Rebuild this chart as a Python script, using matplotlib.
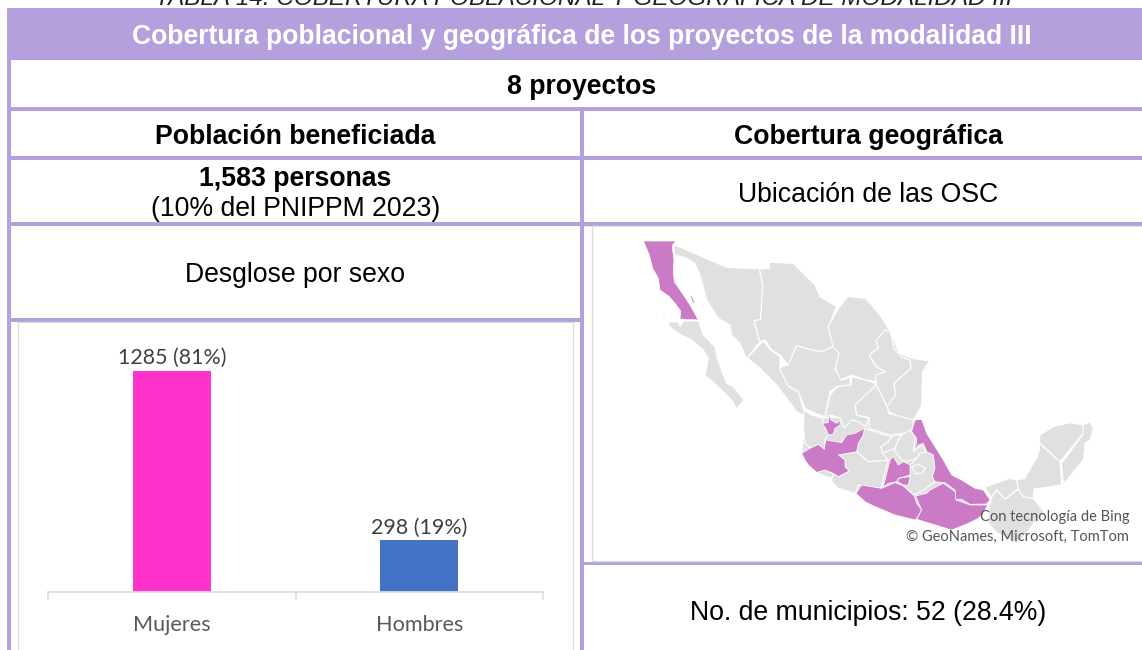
import matplotlib
matplotlib.use("Agg")
import matplotlib.pyplot as plt
from matplotlib.patches import Rectangle, Polygon

W, H = 1142, 650
PURPLE = "#B4A0DC"
MAP_GREY = "#E0E0E0"
MAP_PURPLE = "#CB7BC6"
CHART_EDGE = "#DCDCDC"
SANS = "Liberation Sans"

categories = ["Mujeres", "Hombres"]
values = [1285, 298]
shares = [81, 19]
bar_colors = ["#FF33CC", "#4472C4"]

title_clipped = "TABLA 14. COBERTURA POBLACIONAL Y GEOGRÁFICA DE MODALIDAD III"
title = "Cobertura poblacional y geográfica de los proyectos de la modalidad III"
projects = "8 proyectos"
left_head = "Población beneficiada"
right_head = "Cobertura geográfica"
people = "1,583 personas"
people_share = "(10% del PNIPPM 2023)"
location = "Ubicación de las OSC"
breakdown = "Desglose por sexo"
municipalities = "No. de municipios: 52 (28.4%)"
credit_1 = "Con tecnología de Bing"
credit_2 = "© GeoNames, Microsoft, TomTom"


# Simplified state outlines, traced in four views of the map image
def whole(pts):
    return [(585 + x / 2.815, 225 + y / 3) for x, y in pts]


def north(pts):
    return [(640 + x / 3, 235 + y / 3) for x, y in pts]


def south(pts):
    return [(795 + x / 3, 410 + y / 3) for x, y in pts]


def east(pts):
    return [(960 + x / 3, 410 + y / 3) for x, y in pts]


land_under = whole([(620,575),(925,590),(1040,760),(1120,835),(945,885),(765,805),(612,690)])

grey_states = [
    north([(80,262),(115,260),(120,275),(130,258),(175,258),(190,300),(210,320),(225,335),(232,370),(250,420),(260,445),(280,455),(312,495),(290,522),(275,495),(240,460),(195,420),(205,370),(190,345),(155,315),(125,300),(100,285)]),
    north([(100,28),(260,97),(358,102),(368,150),(362,253),(342,258),(360,320),(322,368),(322,378),(300,325),(275,300),(270,270),(235,250),(200,195),(180,120),(165,85),(140,70),(105,60)]),
    north([(358,102),(388,100),(388,82),(460,85),(525,150),(540,185),(590,215),(565,275),(580,335),(545,350),(515,345),(470,332),(445,390),(420,360),(395,345),(375,315),(360,320),(342,258),(362,253),(368,150)]),
    north([(322,368),(370,318),(392,345),(420,365),(420,405),(447,455),(475,470),(490,520),(497,545),(470,530),(410,450),(360,400)]),
    north([(425,395),(445,390),(470,332),(515,345),(545,350),(580,335),(598,355),(585,405),(610,435),(630,425),(630,450),(590,455),(570,470),(555,545),(525,535),(495,520),(475,470),(447,455),(420,405)]),
    whole([(712,252),(740,215),(790,220),(830,270),(860,320),(845,315),(820,345),(825,370),(800,390),(820,425),(845,440),(820,450),(818,470),(790,465),(750,450),(720,465),(705,430),(715,385),(698,365),(685,305)]),
    whole([(845,315),(860,320),(870,370),(890,395),(915,405),(918,430),(870,475),(875,510),(850,545),(820,480),(818,450),(845,440),(820,425),(800,390),(825,370),(820,345)]),
    whole([(860,320),(885,385),(920,400),(970,408),(950,440),(948,540),(925,585),(890,580),(855,560),(850,545),(875,510),(870,475),(918,430),(915,405),(890,395),(870,370)]),
    whole([(690,510),(710,485),(750,480),(750,455),(790,465),(818,475),(815,490),(760,540),(765,570),(800,580),(790,605),(770,590),(750,585),(730,610),(720,580),(695,570),(675,580)]),
    whole([(820,480),(850,545),(855,565),(925,585),(920,620),(895,625),(860,630),(800,610),(800,578),(765,570),(760,540)]),
    south([(28,0),(50,15),(85,25),(82,40),(92,55),(100,75),(90,88),(88,118),(70,103),(45,115),(30,100),(25,50)]),
    south([(65,187),(90,180),(115,190),(110,205),(90,200)]),
    south([(130,135),(185,125),(220,155),(280,150),(265,205),(258,235),(190,225),(180,250),(130,235),(110,215),(115,190),(130,200),(162,183),(150,170),(150,150)]),
    south([(208,55),(260,72),(290,80),(280,95),(258,110),(262,130),(280,150),(220,155),(185,125),(190,100),(205,75)]),
    south([(290,80),(300,75),(320,75),(305,100),(300,115),(262,130),(258,110),(280,95)]),
    south([(320,75),(345,60),(360,80),(355,125),(380,105),(395,125),(375,130),(365,145),(350,150),(325,155),(300,125),(300,115),(305,100)]),
    south([(345,165),(365,145),(375,130),(395,125),(415,135),(420,175),(412,200),(420,215),(385,240),(355,255),(340,240),(325,228),(345,200)]),
    south([(315,180),(325,168),(335,190),(330,198),(315,198)]),
    south([(350,170),(370,163),(392,175),(380,190),(360,190)]),
    east([(72,232),(150,205),(170,210),(175,235),(135,268),(110,240),(95,262)]),
    east([(85,305),(95,262),(110,240),(135,268),(175,238),(190,260),(220,265),(255,310),(225,335),(200,370),(170,402),(111,369),(85,340)]),
    east([(238,100),(300,155),(305,225),(222,237),(220,265),(190,260),(175,238),(170,210),(195,205),(205,185),(230,145),(238,120)]),
    east([(240,75),(280,50),(330,38),(370,45),(370,70),(300,155),(238,98)]),
    east([(370,45),(390,35),(400,55),(390,90),(375,100),(370,150),(345,180),(310,222),(305,160),(368,75)]),
]
purple_states = [
    north([(10,18),(108,18),(98,30),(98,45),(102,75),(100,110),(103,140),(125,172),(150,210),(175,255),(120,252),(122,228),(105,205),(88,185),(60,165),(55,130),(38,100),(28,60)]),
    north([(150,180),(155,182),(165,205),(158,203)]),
    north([(68,238),(72,238),(72,244),(68,244)]),
    south([(82,40),(100,38),(100,14),(108,30),(125,40),(135,30),(135,45),(120,55),(115,72),(100,75),(92,55)]),
    south([(20,130),(45,115),(70,103),(88,118),(92,90),(110,93),(140,98),(155,75),(180,70),(208,55),(205,75),(190,100),(185,125),(130,135),(150,150),(150,170),(162,183),(130,200),(115,190),(90,180),(65,187),(40,165),(30,150)]),
    south([(350,65),(360,30),(380,28),(395,70),(420,110),(445,150),(470,195),(500,210),(540,235),(565,240),(585,270),(575,282),(525,283),(500,268),(482,268),(480,240),(450,218),(420,215),(412,200),(420,175),(415,135),(395,125),(385,100),(370,105),(355,125),(365,100),(365,85)]),
    south([(265,230),(285,150),(295,140),(310,165),(325,155),(345,165),(345,195),(310,205),(305,215),(280,220),(260,235)]),
    south([(310,205),(345,200),(340,225),(325,225),(308,215)]),
    south([(183,250),(200,225),(260,235),(300,218),(325,228),(358,258),(365,280),(380,300),(365,325),(360,330),(300,315),(240,290),(210,275)]),
    south([(362,258),(395,250),(405,240),(445,220),(480,245),(483,270),(525,285),(578,285),(565,310),(550,325),(520,340),(470,360),(365,328),(380,300)]),
]

plt.rcParams["font.family"] = [SANS, "DejaVu Sans"]
fig = plt.figure(figsize=(W / 100, H / 100), dpi=100, facecolor="white")
bg = fig.add_axes([0, 0, 1, 1])
bg.set_xlim(0, W)
bg.set_ylim(H, 0)
bg.axis("off")


def band(x0, y0, x1, y1, color=PURPLE, z=1):
    bg.add_patch(Rectangle((x0, y0), x1 - x0, y1 - y0, fc=color, ec="none", zorder=z))


# Clipped caption above the table
bg.text(584, -1.5, title_clipped, ha="center", va="center", fontsize=17.5,
        style="italic", color="#222222", clip_on=True, zorder=2)

# Table frame
band(7, 8, W, 60)
band(7, 8, 10.5, H)
for y0, y1 in [(107, 110.5), (156, 159.5), (222, 225.5), (318, 321.5)]:
    band(7, y0, W if y0 != 318 else 583, y1)
band(580, 107, 583.5, H)
band(580, 561.5, W, 565)

# Chart and map frames
bg.add_patch(Rectangle((18, 322), 555, 340, fc="white", ec=CHART_EDGE, lw=1.0, zorder=1.5))
bg.add_patch(Rectangle((591.5, 226), 560, 335, fc="white", ec=CHART_EDGE, lw=1.0, zorder=1.5))
band(583.5, 225.5, W, 227, "#E6E6E6", 1.6)

# Table text
bold = dict(ha="center", va="center", fontweight="bold", color="black", zorder=3)
plain = dict(ha="center", va="center", color="black", zorder=3)
FS = 19.2
bg.text(582, 36.5, title, fontsize=19.1, **{**bold, "color": "white"})
bg.text(582, 87, projects, fontsize=FS, **bold)
bg.text(295.5, 136.5, left_head, fontsize=FS, **bold)
bg.text(868, 136.5, right_head, fontsize=FS, **bold)
bg.text(295.5, 178.5, people, fontsize=FS, **bold)
bg.text(295.5, 209, people_share, fontsize=19.2, **plain)
bg.text(868, 194.5, location, fontsize=FS, **plain)
bg.text(295.5, 275, breakdown, fontsize=FS, **plain)
bg.text(868, 613, municipalities, fontsize=FS, **plain)

# Map
bg.add_patch(Polygon(land_under, closed=True, fc=MAP_GREY, ec="none", zorder=1.9))
for pts in grey_states:
    bg.add_patch(Polygon(pts, closed=True, fc=MAP_GREY, ec="white", lw=0.8, zorder=2, joinstyle="round"))
for pts in purple_states:
    bg.add_patch(Polygon(pts, closed=True, fc=MAP_PURPLE, ec="white", lw=0.5, zorder=2.2, joinstyle="round"))
bg.text(1130, 517, credit_1, ha="right", va="center", fontsize=10.5, family="Lato", color="#555555", zorder=3)
bg.text(1129, 537, credit_2, ha="right", va="center", fontsize=10.5, family="Lato", color="#555555", zorder=3)

# Bar chart
base_px, left_px, right_px, top_px = 591.5, 48, 543, 330
ax = fig.add_axes([left_px / W, 1 - base_px / H, (right_px - left_px) / W, (base_px - top_px) / H], zorder=5)
ax.patch.set_alpha(0)
positions = list(range(len(categories)))
bars = ax.bar(positions, values, width=0.315, color=bar_colors, linewidth=0)
ax.set_xlim(-0.5, 1.5)
ax.set_ylim(0, (base_px - top_px) * 1285 / 221)
for b, v, s in zip(bars, values, shares):
    ax.annotate(f"{v} ({s}%)", (b.get_x() + b.get_width() / 2, v), xytext=(0, 1.6),
                textcoords="offset points", ha="center", va="bottom",
                fontsize=15.4, family="Lato", color="#404040")
for side in ("top", "left", "right"):
    ax.spines[side].set_visible(False)
ax.spines["bottom"].set_color(CHART_EDGE)
ax.spines["bottom"].set_linewidth(1.3)
ax.set_yticks([])
ax.set_xticks([-0.5, 0.5, 1.5])
ax.set_xticklabels([])
ax.tick_params(axis="x", length=6, width=1.1, color=CHART_EDGE)
for p, c in zip(positions, categories):
    ax.annotate(c, (p, 0), xytext=(0, -24), textcoords="offset points", ha="center", va="center",
                fontsize=15.6, family="Lato", color="#595959", annotation_clip=False)

fig.savefig("out.png", dpi=100)
